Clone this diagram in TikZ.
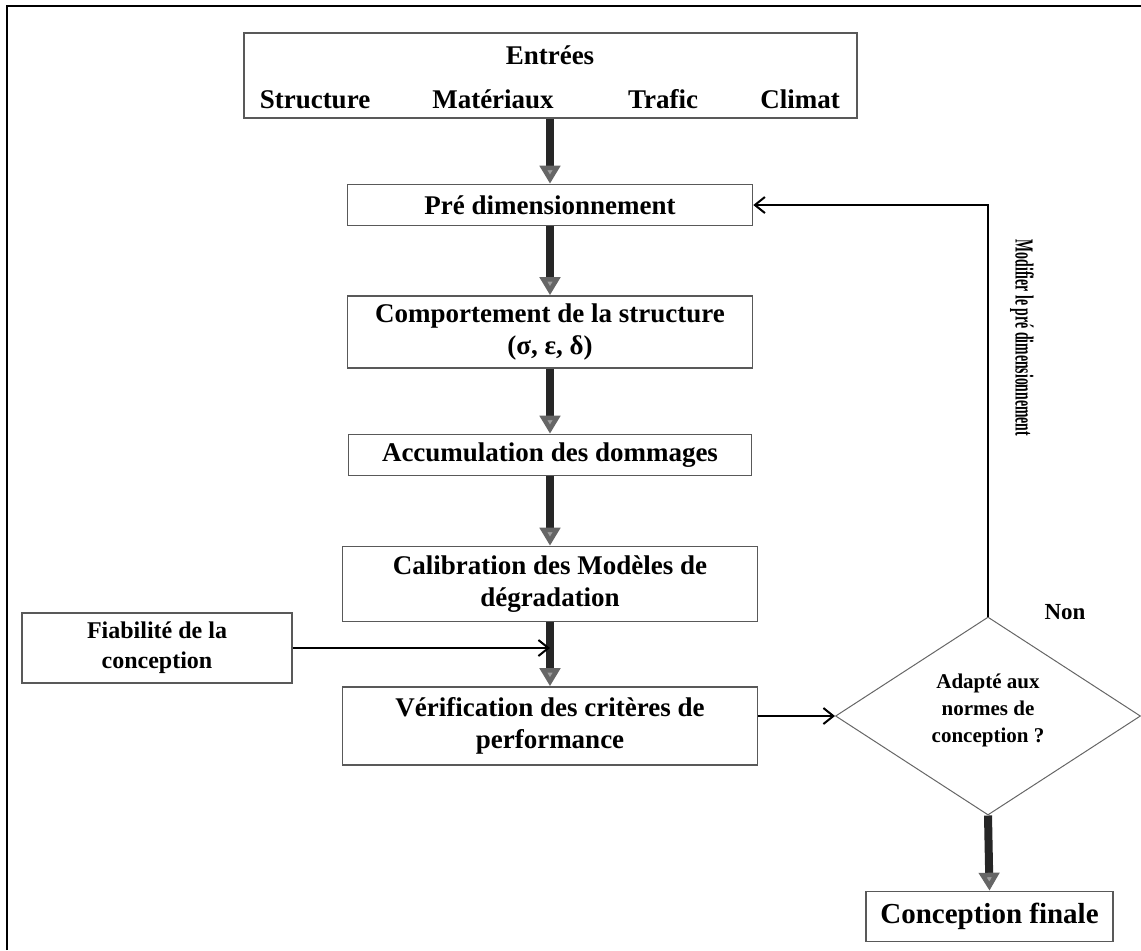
\documentclass[tikz,border=0pt]{standalone}
\usepackage{fontspec}
\setmainfont{Liberation Serif}
\usetikzlibrary{arrows.meta,shapes.geometric}

\tikzset{
	etape/.style={draw=black!65, line width=0.8pt, align=center, inner sep=0pt,
		font=\bfseries\fontsize{13.5}{16}\selectfont},
	mot/.style={font=\bfseries\fontsize{13.5}{16}\selectfont, inner sep=0pt},
	gros/.style={line width=4pt, black!85, -{Triangle[width=10pt,length=9pt,fill=gray!75,color=black!60]}},
	fin/.style={line width=1pt, -{Straight Barb[length=5pt,width=8pt]}},
}

\begin{document}
\begin{tikzpicture}[x=0.5pt,y=-0.5pt]
	\useasboundingbox (0,0) rectangle (1141,950);
	\draw[line width=1.4pt] (7,950) -- (7,6) -- (1141,6);
	
	% entrees
	\node[etape, minimum width=306.5pt, minimum height=42.5pt] (entrees) at (550.5,75.5) {};
	\node[mot] (titre) at (550,55) {Entrées};
	\foreach \x/\m [count=\i] in {315/Structure, 493/Matériaux, 663/Trafic, 800/Climat}
		\node[mot, anchor=base] (entree\i) at (\x,108) {\m};
	
	% colonne
	\node[etape, minimum width=202.5pt, minimum height=20.5pt] (predim) at (550,205) {Pré dimensionnement};
	\node[etape, minimum width=202.5pt, minimum height=36pt] (comport) at (550,332) {Comportement de la structure\\(σ, ε, δ)};
	\node[etape, minimum width=201.5pt, minimum height=20.5pt] (accum) at (550,455) {Accumulation des dommages};
	\node[etape, minimum width=207.5pt, minimum height=37.5pt] (calib) at (550,584) {Calibration des Modèles de\\dégradation};
	\node[etape, minimum width=207.5pt, minimum height=39pt] (verif) at (550,726) {Vérification des critères de\\performance};
	\node[etape, minimum width=135pt, minimum height=35pt, font=\bfseries\fontsize{12}{15}\selectfont] (fiab) at (157,648) {Fiabilité de la\\conception};
	
	% decision
	\node[diamond, draw=black!60, line width=0.5pt, inner sep=0pt, minimum width=152.5pt, minimum height=99pt] (decide) at (988,716) {};
	\node[align=center, inner sep=0pt, font=\bfseries\fontsize{10.5}{13.5}\selectfont] (question) at (988,710) {Adapté aux\\normes de\\conception ?};
	\node[etape, minimum width=123.5pt, minimum height=25pt, font=\bfseries\fontsize{14.5}{17}\selectfont] (final) at (989.5,916.5) {Conception finale};
	
	\node[mot, font=\bfseries\fontsize{11.5}{14}\selectfont] (non) at (1065,612) {Non};
	\node[mot, rotate=-90, font=\bfseries\fontsize{13}{15}\selectfont] (modif) at (1022,338) {\scalebox{0.53}[1]{Modifier le pré dimensionnement}};
	
	% fleches
	\draw[gros] (entrees.south -| predim.north) -- (predim.north);
	\draw[gros] (predim.south) -- (comport.north);
	\draw[gros] (comport.south) -- (accum.north);
	\draw[gros] (accum.south) -- (calib.north);
	\draw[gros] (calib.south) -- (verif.north);
	\draw[gros] (decide.south) -- (final.north);
	\draw[fin] (fiab.east) -- (fiab.east -| calib.south);
	\draw[fin] (verif.east |- decide.west) -- (decide.west);
	\draw[fin] (decide.north) |- (predim.east);
	
\end{tikzpicture}
\end{document}
